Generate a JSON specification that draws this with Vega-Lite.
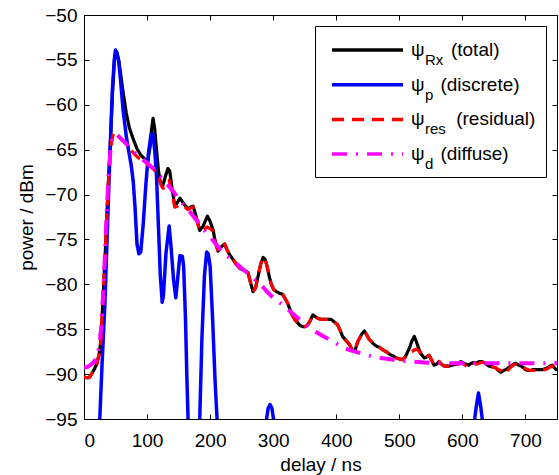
{
  "$schema": "https://vega.github.io/schema/vega-lite/v6.json",
  "width": 473,
  "height": 404,
  "autosize": {"type": "none"},
  "padding": {"left": 84, "top": 15, "right": 2, "bottom": 56},
  "background": "white",
  "config": {
    "view": {"stroke": "black", "strokeWidth": 1},
    "font": "Liberation Sans",
    "axis": {"grid": false, "domain": false, "tickColor": "black", "tickSize": -5, "tickWidth": 1, "labelFont": "Liberation Sans", "labelFontSize": 19, "labelColor": "black", "titleFont": "Liberation Sans", "titleFontSize": 19, "titleFontWeight": "normal", "titleColor": "black"}
  },
  "datasets": {
    "total": [
      {"delay":0,"power":-90.3,"series":"total"},{"delay":4,"power":-90.4,"series":"total"},{"delay":8,"power":-90.4,"series":"total"},{"delay":12,"power":-90.0,"series":"total"},{"delay":16,"power":-89.5,"series":"total"},{"delay":20,"power":-88.9,"series":"total"},{"delay":24,"power":-87.8,"series":"total"},{"delay":27,"power":-86.2,"series":"total"},{"delay":30,"power":-81.8,"series":"total"},{"delay":34,"power":-76.0,"series":"total"},{"delay":38,"power":-69.5,"series":"total"},{"delay":42,"power":-64.0,"series":"total"},{"delay":45,"power":-59.0,"series":"total"},{"delay":48,"power":-55.3,"series":"total"},{"delay":50,"power":-54.0,"series":"total"},{"delay":52,"power":-54.1,"series":"total"},{"delay":55,"power":-55.0,"series":"total"},{"delay":58,"power":-56.5,"series":"total"},{"delay":62,"power":-58.6,"series":"total"},{"delay":67,"power":-60.9,"series":"total"},{"delay":72,"power":-62.6,"series":"total"},{"delay":78,"power":-63.8,"series":"total"},{"delay":84,"power":-64.9,"series":"total"},{"delay":90,"power":-65.6,"series":"total"},{"delay":96,"power":-66.0,"series":"total"},{"delay":101,"power":-66.3,"series":"total"},{"delay":105,"power":-64.6,"series":"total"},{"delay":107,"power":-62.8,"series":"total"},{"delay":109.5,"power":-61.5,"series":"total"},{"delay":112,"power":-62.6,"series":"total"},{"delay":115,"power":-65.0,"series":"total"},{"delay":118,"power":-67.3,"series":"total"},{"delay":121,"power":-68.6,"series":"total"},{"delay":125,"power":-69.0,"series":"total"},{"delay":129,"power":-68.0,"series":"total"},{"delay":133,"power":-67.1,"series":"total"},{"delay":136,"power":-67.4,"series":"total"},{"delay":140,"power":-69.5,"series":"total"},{"delay":144,"power":-71.3,"series":"total"},{"delay":148,"power":-70.9,"series":"total"},{"delay":152,"power":-70.4,"series":"total"},{"delay":156,"power":-70.8,"series":"total"},{"delay":160,"power":-71.2,"series":"total"},{"delay":165,"power":-71.6,"series":"total"},{"delay":169,"power":-71.4,"series":"total"},{"delay":173,"power":-71.3,"series":"total"},{"delay":178,"power":-72.5,"series":"total"},{"delay":183.5,"power":-74.0,"series":"total"},{"delay":189,"power":-73.5,"series":"total"},{"delay":195.7,"power":-72.4,"series":"total"},{"delay":200,"power":-73.0,"series":"total"},{"delay":204.6,"power":-73.9,"series":"total"},{"delay":208,"power":-75.2,"series":"total"},{"delay":212.5,"power":-76.3,"series":"total"},{"delay":218,"power":-75.8,"series":"total"},{"delay":223,"power":-75.5,"series":"total"},{"delay":227,"power":-76.2,"series":"total"},{"delay":231,"power":-76.7,"series":"total"},{"delay":236,"power":-77.2,"series":"total"},{"delay":241.6,"power":-77.8,"series":"total"},{"delay":247,"power":-78.2,"series":"total"},{"delay":252,"power":-78.4,"series":"total"},{"delay":256,"power":-78.5,"series":"total"},{"delay":260,"power":-78.7,"series":"total"},{"delay":264,"power":-79.8,"series":"total"},{"delay":268,"power":-80.8,"series":"total"},{"delay":272,"power":-80.4,"series":"total"},{"delay":276,"power":-79.1,"series":"total"},{"delay":280,"power":-77.8,"series":"total"},{"delay":284,"power":-77.0,"series":"total"},{"delay":287,"power":-77.2,"series":"total"},{"delay":290,"power":-77.9,"series":"total"},{"delay":294,"power":-79.2,"series":"total"},{"delay":297,"power":-80.0,"series":"total"},{"delay":301,"power":-80.6,"series":"total"},{"delay":305,"power":-80.8,"series":"total"},{"delay":310,"power":-81.0,"series":"total"},{"delay":315,"power":-81.1,"series":"total"},{"delay":319,"power":-81.6,"series":"total"},{"delay":323,"power":-82.1,"series":"total"},{"delay":328.6,"power":-83.2,"series":"total"},{"delay":334,"power":-83.9,"series":"total"},{"delay":339,"power":-84.3,"series":"total"},{"delay":343,"power":-84.6,"series":"total"},{"delay":347,"power":-84.7,"series":"total"},{"delay":351,"power":-84.7,"series":"total"},{"delay":355,"power":-84.5,"series":"total"},{"delay":359,"power":-84.0,"series":"total"},{"delay":363,"power":-83.4,"series":"total"},{"delay":367,"power":-83.6,"series":"total"},{"delay":371,"power":-83.8,"series":"total"},{"delay":376,"power":-83.9,"series":"total"},{"delay":381,"power":-83.9,"series":"total"},{"delay":387,"power":-83.9,"series":"total"},{"delay":392,"power":-83.9,"series":"total"},{"delay":397,"power":-84.2,"series":"total"},{"delay":402,"power":-84.5,"series":"total"},{"delay":406,"power":-85.1,"series":"total"},{"delay":410,"power":-85.8,"series":"total"},{"delay":416,"power":-86.3,"series":"total"},{"delay":421,"power":-86.7,"series":"total"},{"delay":426,"power":-87.4,"series":"total"},{"delay":430,"power":-87.3,"series":"total"},{"delay":434,"power":-86.4,"series":"total"},{"delay":440,"power":-85.6,"series":"total"},{"delay":444.6,"power":-85.2,"series":"total"},{"delay":448,"power":-85.6,"series":"total"},{"delay":452,"power":-86.1,"series":"total"},{"delay":456,"power":-86.4,"series":"total"},{"delay":460,"power":-86.7,"series":"total"},{"delay":464,"power":-86.9,"series":"total"},{"delay":468,"power":-87.0,"series":"total"},{"delay":474,"power":-87.3,"series":"total"},{"delay":479,"power":-87.5,"series":"total"},{"delay":483,"power":-87.7,"series":"total"},{"delay":487,"power":-87.9,"series":"total"},{"delay":491,"power":-88.0,"series":"total"},{"delay":495,"power":-88.2,"series":"total"},{"delay":500,"power":-88.3,"series":"total"},{"delay":505,"power":-88.4,"series":"total"},{"delay":510,"power":-88.0,"series":"total"},{"delay":516,"power":-87.1,"series":"total"},{"delay":520,"power":-86.3,"series":"total"},{"delay":523.7,"power":-85.8,"series":"total"},{"delay":527,"power":-86.4,"series":"total"},{"delay":531.6,"power":-87.3,"series":"total"},{"delay":535,"power":-87.8,"series":"total"},{"delay":539.6,"power":-88.2,"series":"total"},{"delay":543,"power":-88.1,"series":"total"},{"delay":547,"power":-87.9,"series":"total"},{"delay":551,"power":-88.4,"series":"total"},{"delay":555,"power":-89.0,"series":"total"},{"delay":559,"power":-88.9,"series":"total"},{"delay":563,"power":-88.6,"series":"total"},{"delay":567,"power":-88.9,"series":"total"},{"delay":571,"power":-89.1,"series":"total"},{"delay":575,"power":-89.1,"series":"total"},{"delay":579,"power":-89.1,"series":"total"},{"delay":584,"power":-89.0,"series":"total"},{"delay":590,"power":-88.9,"series":"total"},{"delay":594,"power":-88.8,"series":"total"},{"delay":597.6,"power":-88.6,"series":"total"},{"delay":602,"power":-88.8,"series":"total"},{"delay":606,"power":-88.9,"series":"total"},{"delay":610,"power":-89.0,"series":"total"},{"delay":614,"power":-88.8,"series":"total"},{"delay":618,"power":-88.7,"series":"total"},{"delay":622,"power":-88.8,"series":"total"},{"delay":626.6,"power":-88.6,"series":"total"},{"delay":630,"power":-88.6,"series":"total"},{"delay":634.5,"power":-88.7,"series":"total"},{"delay":638,"power":-88.9,"series":"total"},{"delay":642,"power":-89.1,"series":"total"},{"delay":648,"power":-89.2,"series":"total"},{"delay":653,"power":-89.3,"series":"total"},{"delay":657,"power":-89.6,"series":"total"},{"delay":661,"power":-89.8,"series":"total"},{"delay":665,"power":-89.6,"series":"total"},{"delay":669,"power":-89.5,"series":"total"},{"delay":673,"power":-89.3,"series":"total"},{"delay":677,"power":-89.1,"series":"total"},{"delay":681,"power":-88.9,"series":"total"},{"delay":684.6,"power":-88.8,"series":"total"},{"delay":689,"power":-89.0,"series":"total"},{"delay":693,"power":-89.1,"series":"total"},{"delay":697,"power":-89.3,"series":"total"},{"delay":700,"power":-89.5,"series":"total"},{"delay":704,"power":-89.6,"series":"total"},{"delay":708,"power":-89.6,"series":"total"},{"delay":712,"power":-89.5,"series":"total"},{"delay":716,"power":-89.5,"series":"total"},{"delay":722,"power":-89.5,"series":"total"},{"delay":727,"power":-89.5,"series":"total"},{"delay":731,"power":-89.4,"series":"total"},{"delay":735,"power":-89.3,"series":"total"},{"delay":739,"power":-89.1,"series":"total"},{"delay":742.6,"power":-89.0,"series":"total"},{"delay":746,"power":-89.3,"series":"total"},{"delay":750,"power":-89.6,"series":"total"}
    ],
    "discrete": [
      {"delay":0,"power":-115,"series":"discrete"},{"delay":20,"power":-105,"series":"discrete"},{"delay":23,"power":-98,"series":"discrete"},{"delay":25,"power":-95,"series":"discrete"},{"delay":29,"power":-88.3,"series":"discrete"},{"delay":33,"power":-82.4,"series":"discrete"},{"delay":36.6,"power":-75,"series":"discrete"},{"delay":41,"power":-65.7,"series":"discrete"},{"delay":45,"power":-58.3,"series":"discrete"},{"delay":48,"power":-55.0,"series":"discrete"},{"delay":50,"power":-53.9,"series":"discrete"},{"delay":52,"power":-54.2,"series":"discrete"},{"delay":55,"power":-55.2,"series":"discrete"},{"delay":58,"power":-57.3,"series":"discrete"},{"delay":62,"power":-60.6,"series":"discrete"},{"delay":67,"power":-63.5,"series":"discrete"},{"delay":71,"power":-65.2,"series":"discrete"},{"delay":75,"power":-66.8,"series":"discrete"},{"delay":78,"power":-68.5,"series":"discrete"},{"delay":81,"power":-71.5,"series":"discrete"},{"delay":84,"power":-75.5,"series":"discrete"},{"delay":87,"power":-76.6,"series":"discrete"},{"delay":90,"power":-76.4,"series":"discrete"},{"delay":94,"power":-73.2,"series":"discrete"},{"delay":98,"power":-69.0,"series":"discrete"},{"delay":102,"power":-65.5,"series":"discrete"},{"delay":106,"power":-63.4,"series":"discrete"},{"delay":109,"power":-63.2,"series":"discrete"},{"delay":112,"power":-65.0,"series":"discrete"},{"delay":115,"power":-68.0,"series":"discrete"},{"delay":118,"power":-73.5,"series":"discrete"},{"delay":121,"power":-79.0,"series":"discrete"},{"delay":124,"power":-82.0,"series":"discrete"},{"delay":126,"power":-81.2,"series":"discrete"},{"delay":130,"power":-76.5,"series":"discrete"},{"delay":135,"power":-73.5,"series":"discrete"},{"delay":138,"power":-75.8,"series":"discrete"},{"delay":142,"power":-79.5,"series":"discrete"},{"delay":145.6,"power":-81.5,"series":"discrete"},{"delay":149,"power":-79.0,"series":"discrete"},{"delay":152,"power":-76.8,"series":"discrete"},{"delay":156,"power":-76.9,"series":"discrete"},{"delay":158,"power":-78.0,"series":"discrete"},{"delay":161,"power":-84.0,"series":"discrete"},{"delay":163,"power":-90.0,"series":"discrete"},{"delay":165,"power":-95.0,"series":"discrete"},{"delay":167,"power":-100,"series":"discrete"},{"delay":174,"power":-110,"series":"discrete"},{"delay":181,"power":-100,"series":"discrete"},{"delay":183.5,"power":-95,"series":"discrete"},{"delay":187,"power":-86,"series":"discrete"},{"delay":191,"power":-79,"series":"discrete"},{"delay":194.5,"power":-76.4,"series":"discrete"},{"delay":197,"power":-76.6,"series":"discrete"},{"delay":200,"power":-78.0,"series":"discrete"},{"delay":204,"power":-84.0,"series":"discrete"},{"delay":208,"power":-91.0,"series":"discrete"},{"delay":211,"power":-95.0,"series":"discrete"},{"delay":213,"power":-100,"series":"discrete"},{"delay":250,"power":-120,"series":"discrete"},{"delay":287,"power":-100,"series":"discrete"},{"delay":289.5,"power":-95,"series":"discrete"},{"delay":292,"power":-93.8,"series":"discrete"},{"delay":295,"power":-93.4,"series":"discrete"},{"delay":298,"power":-93.8,"series":"discrete"},{"delay":300.5,"power":-95,"series":"discrete"},{"delay":303,"power":-100,"series":"discrete"},{"delay":460,"power":-125,"series":"discrete"},{"delay":617,"power":-100,"series":"discrete"},{"delay":619.5,"power":-95,"series":"discrete"},{"delay":622,"power":-93.6,"series":"discrete"},{"delay":625.5,"power":-92.1,"series":"discrete"},{"delay":629,"power":-93.6,"series":"discrete"},{"delay":631.5,"power":-95,"series":"discrete"},{"delay":634,"power":-100,"series":"discrete"},{"delay":750,"power":-120,"series":"discrete"}
    ],
    "residual": [
      {"delay":0,"power":-90.3,"series":"residual"},{"delay":4,"power":-90.4,"series":"residual"},{"delay":8,"power":-90.4,"series":"residual"},{"delay":12,"power":-90.0,"series":"residual"},{"delay":16,"power":-89.5,"series":"residual"},{"delay":20,"power":-88.9,"series":"residual"},{"delay":24,"power":-87.8,"series":"residual"},{"delay":27,"power":-86.2,"series":"residual"},{"delay":30,"power":-81.8,"series":"residual"},{"delay":34,"power":-76.0,"series":"residual"},{"delay":38,"power":-69.5,"series":"residual"},{"delay":41,"power":-66.0,"series":"residual"},{"delay":44,"power":-64.0,"series":"residual"},{"delay":47,"power":-63.1,"series":"residual"},{"delay":49,"power":-63.0,"series":"residual"},{"delay":52,"power":-63.3,"series":"residual"},{"delay":56,"power":-63.6,"series":"residual"},{"delay":60,"power":-63.9,"series":"residual"},{"delay":67,"power":-64.3,"series":"residual"},{"delay":72,"power":-64.8,"series":"residual"},{"delay":80,"power":-65.5,"series":"residual"},{"delay":86,"power":-65.9,"series":"residual"},{"delay":92,"power":-66.2,"series":"residual"},{"delay":96,"power":-66.4,"series":"residual"},{"delay":101,"power":-66.7,"series":"residual"},{"delay":106,"power":-66.9,"series":"residual"},{"delay":111,"power":-67.2,"series":"residual"},{"delay":115,"power":-67.6,"series":"residual"},{"delay":119,"power":-68.3,"series":"residual"},{"delay":122.5,"power":-69.0,"series":"residual"},{"delay":125.5,"power":-69.3,"series":"residual"},{"delay":130,"power":-68.8,"series":"residual"},{"delay":135,"power":-68.4,"series":"residual"},{"delay":140,"power":-69.9,"series":"residual"},{"delay":144,"power":-71.4,"series":"residual"},{"delay":148,"power":-71.3,"series":"residual"},{"delay":152,"power":-71.1,"series":"residual"},{"delay":156,"power":-71.4,"series":"residual"},{"delay":160,"power":-71.4,"series":"residual"},{"delay":165,"power":-71.7,"series":"residual"},{"delay":169,"power":-71.5,"series":"residual"},{"delay":173,"power":-71.4,"series":"residual"},{"delay":178,"power":-72.6,"series":"residual"},{"delay":183.5,"power":-74.1,"series":"residual"},{"delay":189,"power":-74.0,"series":"residual"},{"delay":195,"power":-73.6,"series":"residual"},{"delay":200,"power":-73.8,"series":"residual"},{"delay":204.6,"power":-74.1,"series":"residual"},{"delay":208,"power":-75.3,"series":"residual"},{"delay":212.5,"power":-76.3,"series":"residual"},{"delay":218,"power":-75.8,"series":"residual"},{"delay":223,"power":-75.5,"series":"residual"},{"delay":227,"power":-76.2,"series":"residual"},{"delay":231,"power":-76.7,"series":"residual"},{"delay":236,"power":-77.2,"series":"residual"},{"delay":241.6,"power":-77.8,"series":"residual"},{"delay":247,"power":-78.2,"series":"residual"},{"delay":252,"power":-78.4,"series":"residual"},{"delay":256,"power":-78.5,"series":"residual"},{"delay":260,"power":-78.7,"series":"residual"},{"delay":264,"power":-79.8,"series":"residual"},{"delay":268,"power":-80.8,"series":"residual"},{"delay":272,"power":-80.4,"series":"residual"},{"delay":276,"power":-79.1,"series":"residual"},{"delay":280,"power":-77.8,"series":"residual"},{"delay":284,"power":-77.0,"series":"residual"},{"delay":287,"power":-77.2,"series":"residual"},{"delay":290,"power":-77.9,"series":"residual"},{"delay":294,"power":-79.2,"series":"residual"},{"delay":297,"power":-80.0,"series":"residual"},{"delay":301,"power":-80.6,"series":"residual"},{"delay":305,"power":-80.8,"series":"residual"},{"delay":310,"power":-81.0,"series":"residual"},{"delay":315,"power":-81.1,"series":"residual"},{"delay":319,"power":-81.6,"series":"residual"},{"delay":323,"power":-82.1,"series":"residual"},{"delay":328.6,"power":-83.2,"series":"residual"},{"delay":334,"power":-83.9,"series":"residual"},{"delay":339,"power":-84.3,"series":"residual"},{"delay":343,"power":-84.6,"series":"residual"},{"delay":347,"power":-84.7,"series":"residual"},{"delay":351,"power":-84.7,"series":"residual"},{"delay":355,"power":-84.5,"series":"residual"},{"delay":359,"power":-84.0,"series":"residual"},{"delay":363,"power":-83.4,"series":"residual"},{"delay":367,"power":-83.6,"series":"residual"},{"delay":371,"power":-83.8,"series":"residual"},{"delay":376,"power":-83.9,"series":"residual"},{"delay":381,"power":-83.9,"series":"residual"},{"delay":387,"power":-83.9,"series":"residual"},{"delay":392,"power":-83.9,"series":"residual"},{"delay":397,"power":-84.2,"series":"residual"},{"delay":402,"power":-84.5,"series":"residual"},{"delay":406,"power":-85.1,"series":"residual"},{"delay":410,"power":-85.8,"series":"residual"},{"delay":416,"power":-86.3,"series":"residual"},{"delay":421,"power":-86.7,"series":"residual"},{"delay":426,"power":-87.4,"series":"residual"},{"delay":430,"power":-87.3,"series":"residual"},{"delay":434,"power":-86.4,"series":"residual"},{"delay":440,"power":-85.6,"series":"residual"},{"delay":444.6,"power":-85.2,"series":"residual"},{"delay":448,"power":-85.6,"series":"residual"},{"delay":452,"power":-86.1,"series":"residual"},{"delay":456,"power":-86.4,"series":"residual"},{"delay":460,"power":-86.7,"series":"residual"},{"delay":464,"power":-86.9,"series":"residual"},{"delay":468,"power":-87.0,"series":"residual"},{"delay":474,"power":-87.3,"series":"residual"},{"delay":479,"power":-87.5,"series":"residual"},{"delay":483,"power":-87.7,"series":"residual"},{"delay":487,"power":-87.9,"series":"residual"},{"delay":491,"power":-88.0,"series":"residual"},{"delay":495,"power":-88.2,"series":"residual"},{"delay":500,"power":-88.3,"series":"residual"},{"delay":505,"power":-88.4,"series":"residual"},{"delay":510,"power":-88.1,"series":"residual"},{"delay":516,"power":-87.6,"series":"residual"},{"delay":520,"power":-87.5,"series":"residual"},{"delay":524,"power":-87.3,"series":"residual"},{"delay":528,"power":-87.2,"series":"residual"},{"delay":532,"power":-87.5,"series":"residual"},{"delay":535,"power":-87.9,"series":"residual"},{"delay":539.6,"power":-88.2,"series":"residual"},{"delay":543,"power":-88.1,"series":"residual"},{"delay":547,"power":-87.9,"series":"residual"},{"delay":551,"power":-88.4,"series":"residual"},{"delay":555,"power":-89.0,"series":"residual"},{"delay":559,"power":-88.9,"series":"residual"},{"delay":563,"power":-88.6,"series":"residual"},{"delay":567,"power":-88.9,"series":"residual"},{"delay":571,"power":-89.1,"series":"residual"},{"delay":575,"power":-89.1,"series":"residual"},{"delay":579,"power":-89.2,"series":"residual"},{"delay":584,"power":-89.0,"series":"residual"},{"delay":590,"power":-88.9,"series":"residual"},{"delay":594,"power":-88.9,"series":"residual"},{"delay":597.6,"power":-88.7,"series":"residual"},{"delay":602,"power":-88.9,"series":"residual"},{"delay":606,"power":-89.1,"series":"residual"},{"delay":610,"power":-89.2,"series":"residual"},{"delay":614,"power":-88.9,"series":"residual"},{"delay":618,"power":-88.8,"series":"residual"},{"delay":622,"power":-88.9,"series":"residual"},{"delay":626.6,"power":-88.8,"series":"residual"},{"delay":630,"power":-88.7,"series":"residual"},{"delay":634.5,"power":-88.7,"series":"residual"},{"delay":638,"power":-88.9,"series":"residual"},{"delay":642,"power":-89.1,"series":"residual"},{"delay":648,"power":-89.2,"series":"residual"},{"delay":653,"power":-89.3,"series":"residual"},{"delay":657,"power":-89.5,"series":"residual"},{"delay":661,"power":-89.6,"series":"residual"},{"delay":665,"power":-89.8,"series":"residual"},{"delay":669,"power":-90.0,"series":"residual"},{"delay":673,"power":-89.5,"series":"residual"},{"delay":677,"power":-89.2,"series":"residual"},{"delay":681,"power":-89.0,"series":"residual"},{"delay":684.6,"power":-88.9,"series":"residual"},{"delay":689,"power":-89.0,"series":"residual"},{"delay":693,"power":-89.1,"series":"residual"},{"delay":697,"power":-89.2,"series":"residual"},{"delay":700,"power":-89.4,"series":"residual"},{"delay":704,"power":-89.5,"series":"residual"},{"delay":708,"power":-89.6,"series":"residual"},{"delay":712,"power":-89.6,"series":"residual"},{"delay":716,"power":-89.6,"series":"residual"},{"delay":722,"power":-89.5,"series":"residual"},{"delay":727,"power":-89.5,"series":"residual"},{"delay":731,"power":-89.5,"series":"residual"},{"delay":735,"power":-89.4,"series":"residual"},{"delay":739,"power":-89.2,"series":"residual"},{"delay":742.6,"power":-89.1,"series":"residual"},{"delay":746,"power":-89.4,"series":"residual"},{"delay":750,"power":-89.8,"series":"residual"}
    ],
    "diffuse": [
      {"delay":0,"power":-89.3,"series":"diffuse"},{"delay":5,"power":-89.2,"series":"diffuse"},{"delay":10,"power":-89.0,"series":"diffuse"},{"delay":15,"power":-88.7,"series":"diffuse"},{"delay":20,"power":-88.2,"series":"diffuse"},{"delay":24,"power":-87.0,"series":"diffuse"},{"delay":27,"power":-85.0,"series":"diffuse"},{"delay":30,"power":-81.5,"series":"diffuse"},{"delay":33,"power":-77.0,"series":"diffuse"},{"delay":36,"power":-72.0,"series":"diffuse"},{"delay":39,"power":-67.8,"series":"diffuse"},{"delay":42,"power":-65.0,"series":"diffuse"},{"delay":45,"power":-63.7,"series":"diffuse"},{"delay":48,"power":-63.3,"series":"diffuse"},{"delay":52,"power":-63.3,"series":"diffuse"},{"delay":56,"power":-63.6,"series":"diffuse"},{"delay":62,"power":-64.0,"series":"diffuse"},{"delay":70,"power":-64.6,"series":"diffuse"},{"delay":80,"power":-65.3,"series":"diffuse"},{"delay":90,"power":-65.9,"series":"diffuse"},{"delay":100,"power":-66.5,"series":"diffuse"},{"delay":110,"power":-67.1,"series":"diffuse"},{"delay":120,"power":-67.9,"series":"diffuse"},{"delay":130,"power":-68.7,"series":"diffuse"},{"delay":140,"power":-69.5,"series":"diffuse"},{"delay":150,"power":-70.5,"series":"diffuse"},{"delay":160,"power":-71.3,"series":"diffuse"},{"delay":170,"power":-72.1,"series":"diffuse"},{"delay":180,"power":-73.0,"series":"diffuse"},{"delay":190,"power":-73.9,"series":"diffuse"},{"delay":200,"power":-74.7,"series":"diffuse"},{"delay":210,"power":-75.6,"series":"diffuse"},{"delay":220,"power":-76.4,"series":"diffuse"},{"delay":230,"power":-77.0,"series":"diffuse"},{"delay":240,"power":-77.6,"series":"diffuse"},{"delay":250,"power":-78.2,"series":"diffuse"},{"delay":260,"power":-78.8,"series":"diffuse"},{"delay":270,"power":-79.4,"series":"diffuse"},{"delay":280,"power":-80.0,"series":"diffuse"},{"delay":290,"power":-80.8,"series":"diffuse"},{"delay":300,"power":-81.5,"series":"diffuse"},{"delay":310,"power":-82.0,"series":"diffuse"},{"delay":320,"power":-82.6,"series":"diffuse"},{"delay":330,"power":-83.2,"series":"diffuse"},{"delay":340,"power":-83.8,"series":"diffuse"},{"delay":350,"power":-84.4,"series":"diffuse"},{"delay":360,"power":-85.0,"series":"diffuse"},{"delay":370,"power":-85.4,"series":"diffuse"},{"delay":380,"power":-85.8,"series":"diffuse"},{"delay":390,"power":-86.2,"series":"diffuse"},{"delay":400,"power":-86.6,"series":"diffuse"},{"delay":410,"power":-87.0,"series":"diffuse"},{"delay":420,"power":-87.3,"series":"diffuse"},{"delay":430,"power":-87.5,"series":"diffuse"},{"delay":440,"power":-87.7,"series":"diffuse"},{"delay":450,"power":-87.9,"series":"diffuse"},{"delay":460,"power":-88.1,"series":"diffuse"},{"delay":470,"power":-88.2,"series":"diffuse"},{"delay":480,"power":-88.3,"series":"diffuse"},{"delay":490,"power":-88.4,"series":"diffuse"},{"delay":500,"power":-88.5,"series":"diffuse"},{"delay":520,"power":-88.6,"series":"diffuse"},{"delay":540,"power":-88.7,"series":"diffuse"},{"delay":560,"power":-88.8,"series":"diffuse"},{"delay":600,"power":-88.8,"series":"diffuse"},{"delay":650,"power":-88.8,"series":"diffuse"},{"delay":700,"power":-88.8,"series":"diffuse"},{"delay":750,"power":-88.8,"series":"diffuse"}
    ]
  },
  "layer": [
    {
      "data": {"name": "total"},
      "mark": {"type": "line", "strokeWidth": 3.2, "clip": true, "strokeJoin": "round"},
      "encoding": {
        "x": {"field": "delay", "type": "quantitative", "scale": {"domain": [0, 750], "nice": false, "zero": false}, "axis": {"title": "delay / ns", "values": [0, 100, 200, 300, 400, 500, 600, 700], "labelPadding": 17, "titlePadding": 5}},
        "y": {"field": "power", "type": "quantitative", "scale": {"domain": [-95, -50], "nice": false, "zero": false}, "axis": {"title": "power / dBm", "values": [-95, -90, -85, -80, -75, -70, -65, -60, -55, -50], "labelPadding": 12, "titlePadding": 8}},
        "color": {"field": "series", "type": "nominal", "scale": {"domain": ["total", "discrete", "residual", "diffuse"], "range": ["#000000", "#0000ff", "#ff0000", "#ff00ff"]},
          "legend": {"orient": "top-right", "offset": 11, "title": "\u00a0", "titleFontSize": 2, "titlePadding": 0, "labelExpr": "datum.value == 'total' ? 'ψ\u00a0\u00a0\u00a0\u00a0\u00a0(total)' : datum.value == 'discrete' ? 'ψ\u00a0\u00a0\u00a0(discrete)' : datum.value == 'residual' ? 'ψ\u00a0\u00a0\u00a0\u00a0\u00a0\u00a0(residual)' : 'ψ\u00a0\u00a0\u00a0(diffuse)'", "labelFont": "Liberation Sans", "labelFontSize": 19, "labelColor": "black", "labelLimit": 400, "symbolType": "stroke", "symbolSize": 5041, "symbolStrokeWidth": 3.5, "symbolOffset": 5, "labelOffset": 6, "padding": 10, "rowPadding": 10.7, "clipHeight": 24, "strokeColor": "black", "fillColor": "white"}},
        "strokeDash": {"field": "series", "type": "nominal", "scale": {"domain": ["total", "discrete", "residual", "diffuse"], "range": [[1, 0], [1, 0], [12, 8], [15, 9, 2, 9]]}, "legend": {"orient": "top-right"}},
        "opacity": {"field": "series", "type": "nominal", "scale": {"type": "point", "domain": ["total", "discrete", "residual", "diffuse"], "range": [1, 1]},
          "legend": {"orient": "none", "legendX": 326, "legendY": 33, "title": null, "labelExpr": "datum.value == 'total' ? 'Rx' : datum.value == 'discrete' ? 'p' : datum.value == 'residual' ? 'res' : 'd'", "labelFont": "Liberation Sans", "labelFontSize": 15, "labelColor": "black", "labelOffset": 0, "padding": 0, "rowPadding": 10.7, "clipHeight": 24, "symbolType": "stroke", "symbolSize": 1, "symbolStrokeWidth": 0, "symbolOpacity": 0, "symbolStrokeColor": "transparent"}}
      }
    },
    {
      "data": {"name": "discrete"},
      "mark": {"type": "line", "strokeWidth": 3.5, "clip": true, "strokeJoin": "round"},
      "encoding": {
        "x": {"field": "delay", "type": "quantitative", "axis": {"orient": "top", "labels": false, "title": null, "values": [0, 100, 200, 300, 400, 500, 600, 700]}},
        "y": {"field": "power", "type": "quantitative", "axis": {"orient": "right", "labels": false, "title": null, "values": [-95, -90, -85, -80, -75, -70, -65, -60, -55, -50]}},
        "color": {"field": "series", "type": "nominal"},
        "strokeDash": {"field": "series", "type": "nominal"},
        "opacity": {"field": "series", "type": "nominal"}
      }
    },
    {
      "data": {"name": "residual"},
      "mark": {"type": "line", "strokeWidth": 3.2, "clip": true, "strokeJoin": "round"},
      "encoding": {
        "x": {"field": "delay", "type": "quantitative", "axis": null},
        "y": {"field": "power", "type": "quantitative", "axis": null},
        "color": {"field": "series", "type": "nominal"},
        "strokeDash": {"field": "series", "type": "nominal"},
        "opacity": {"field": "series", "type": "nominal"}
      }
    },
    {
      "data": {"name": "diffuse"},
      "mark": {"type": "line", "strokeWidth": 4, "clip": true, "strokeJoin": "round"},
      "encoding": {
        "x": {"field": "delay", "type": "quantitative", "axis": null},
        "y": {"field": "power", "type": "quantitative", "axis": null},
        "color": {"field": "series", "type": "nominal"},
        "strokeDash": {"field": "series", "type": "nominal"},
        "opacity": {"field": "series", "type": "nominal"}
      }
    }
  ],
  "resolve": {"axis": {"x": "independent", "y": "independent"}}
}
